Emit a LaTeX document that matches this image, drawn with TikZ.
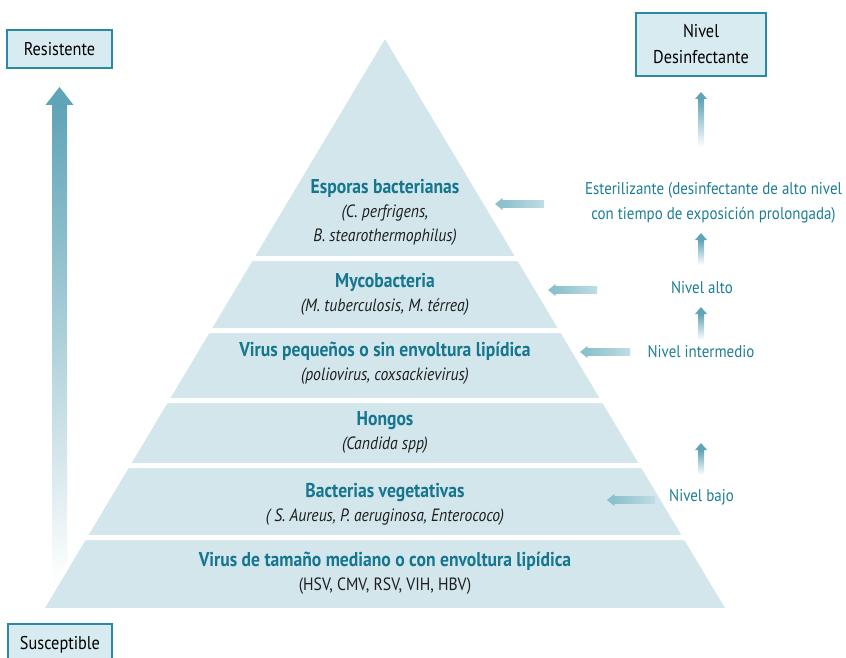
\documentclass[tikz,border=0pt]{standalone}
\usepackage{fontspec}
\setmainfont{PT Sans}[FakeStretch=0.88]
\usepackage{tikz}
\usetikzlibrary{calc}

\definecolor{pyrfill}{HTML}{D2E6EB}
\definecolor{boxfill}{HTML}{D8EBF0}
\definecolor{boxline}{HTML}{2B8AA1}
\definecolor{tealtxt}{HTML}{1C7D97}
\definecolor{ttltxt}{HTML}{16758F}
\definecolor{arrowtop}{HTML}{5FA4B7}
\definecolor{harrow}{HTML}{8CC0CD}

\newcommand{\bandttl}[1]{{\fontsize{20}{24.5}\selectfont\textcolor{ttltxt}{\textbf{#1}}}}
% vertical arrow: tail, tip, half shaft, half head, head length
\newcommand{\uparw}[5]{%
  \shade[top color=arrowtop, bottom color=white] let \p1=(#1), \p2=(#2) in
    (\x1-#3,\y1) rectangle (\x2+#3,\y2-#5);
  \fill[arrowtop] let \p1=(#1), \p2=(#2) in
    (\x2-#4,\y2-#5) -- (\x2+#4,\y2-#5) -- (\p2) -- cycle;}
% horizontal arrow pointing left: tail, tip
\newcommand{\leftarw}[2]{%
  \shade[left color=harrow, right color=harrow!55] let \p1=(#1), \p2=(#2) in
    (\x2+7pt,\y1-3.5pt) rectangle (\x1,\y1+3.5pt);
  \fill[harrow] let \p1=(#1), \p2=(#2) in
    (\x2+7.5pt,\y2-6pt) -- (\x2+7.5pt,\y2+6pt) -- (\p2) -- cycle;}

\begin{document}
\begin{tikzpicture}[
  x=1pt, y=-1pt,
  lvlbox/.style={draw=boxline, line width=1.1pt, fill=boxfill, align=center,
    font=\fontsize{18.5}{26}\selectfont},
  band/.style={fill=pyrfill, draw=white, line width=5pt, line join=miter},
  bandtxt/.style={align=center, text=black!88, font=\fontsize{17.8}{24}\selectfont},
  lvltxt/.style={align=center, text=tealtxt, font=\fontsize{17}{25}\selectfont},
]
  \useasboundingbox (0,0) rectangle (846,658);

  % left scale arrow
  \coordinate (scalebot) at (59.5,584);
  \coordinate (scaletop) at (59.5,87);
  \uparw{scalebot}{scaletop}{7.5pt}{14pt}{18pt}

  % pyramid bands
  \foreach \ya/\yb in {34/258.5, 258.5/330.5, 330.5/400.5, 400.5/465.5, 465.5/537.5, 537.5/610.5}
    \path[band] ({385-0.5976*(\ya-34)},\ya) -- ({385+0.5976*(\ya-34)},\ya)
      -- ({385+0.5976*(\yb-34)},\yb) -- ({385-0.5976*(\yb-34)},\yb) -- cycle;

  \node[bandtxt] (esporas) at (385,212) {\bandttl{Esporas bacterianas}\\
    \textit{(C. perfrigens,}\\ \textit{B. stearothermophilus)}};
  \node[bandtxt] (myco) at (385,294) {\bandttl{Mycobacteria}\\
    \textit{(M. tuberculosis, M. térrea)}};
  \node[bandtxt] (vpeq) at (385,363) {\bandttl{Virus pequeños o sin envoltura lipídica}\\
    \textit{(poliovirus, coxsackievirus)}};
  \node[bandtxt] (hongos) at (385,432) {\bandttl{Hongos}\\ \textit{(Candida spp)}};
  \node[bandtxt] (bact) at (385,504) {\bandttl{Bacterias vegetativas}\\
    \textit{( S. Aureus,  P. aeruginosa, Enterococo)}};
  \node[bandtxt] (vmed) at (385,573) {\bandttl{Virus de tamaño mediano o con envoltura lipídica}\\
    (HSV, CMV, RSV, VIH, HBV)};

  % boxes
  \node[lvlbox, minimum width=105pt, minimum height=38pt] (resist) at (59.5,49) {Resistente};
  \node[lvlbox, minimum width=104pt, minimum height=42pt] (suscep) at (60,645) {Susceptible};
  \node[lvlbox, minimum width=130pt, minimum height=63pt] (desinf) at (701,44.5) {Nivel\\Desinfectante};

  % levels
  \node[lvltxt] (esteril) at (713.5,202.5) {Esterilizante (desinfectante de alto nivel\\
    con tiempo de exposición prolongada)};
  \node[lvltxt] (alto) at (702,288) {Nivel alto};
  \node[lvltxt] (inter) at (701,352) {Nivel intermedio};
  \node[lvltxt] (bajo) at (701.5,497) {Nivel bajo};

  % upward arrows
  \coordinate (u1a) at (701,147); \coordinate (u1b) at (701,92);
  \coordinate (u2a) at (701,265); \coordinate (u2b) at (701,233);
  \coordinate (u3a) at (701,340); \coordinate (u3b) at (701,307);
  \coordinate (u4a) at (701,475); \coordinate (u4b) at (701,443);
  \uparw{u1a}{u1b}{3pt}{6pt}{7pt}
  \uparw{u2a}{u2b}{3pt}{6pt}{7pt}
  \uparw{u3a}{u3b}{3pt}{6pt}{7pt}
  \uparw{u4a}{u4b}{3pt}{6pt}{7pt}

  % arrows into the pyramid
  \coordinate (l1a) at (544,204); \coordinate (l1b) at (495,204);
  \coordinate (l2a) at (597,290); \coordinate (l2b) at (548,290);
  \coordinate (l3a) at (630,352); \coordinate (l3b) at (580,352);
  \coordinate (l4a) at (655,500); \coordinate (l4b) at (607,500);
  \leftarw{l1a}{l1b}
  \leftarw{l2a}{l2b}
  \leftarw{l3a}{l3b}
  \leftarw{l4a}{l4b}
\end{tikzpicture}
\end{document}
